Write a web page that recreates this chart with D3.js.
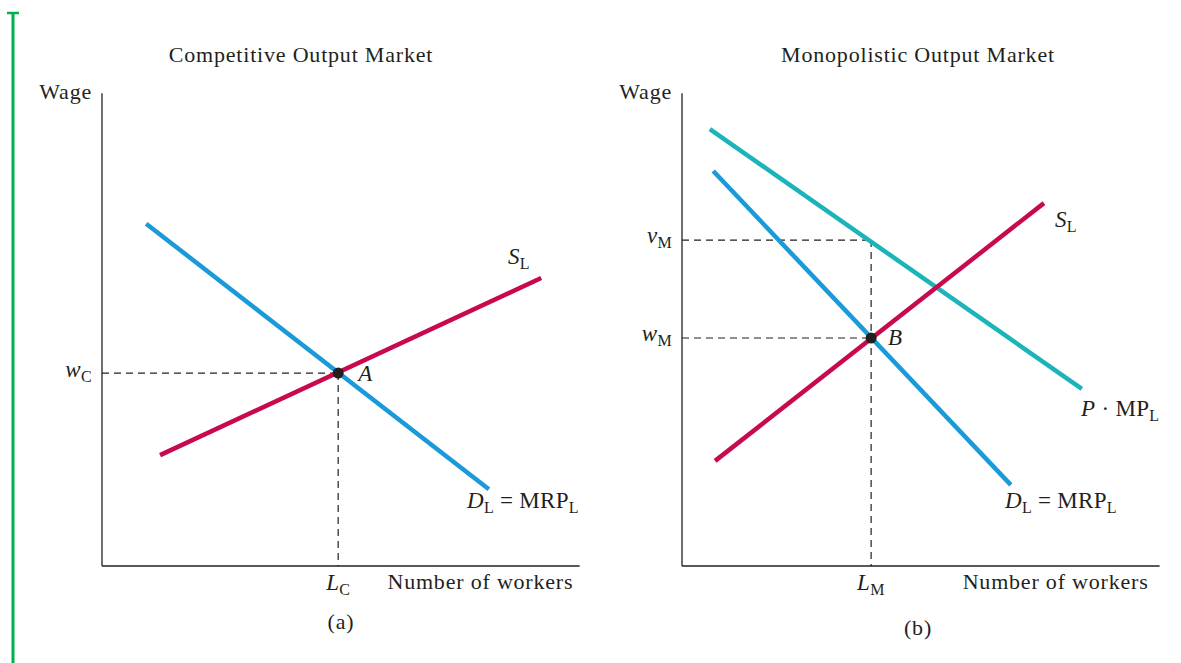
<!DOCTYPE html>
<html>
<head>
<meta charset="utf-8">
<script src="https://cdn.jsdelivr.net/npm/d3@7"></script>
<style>
  body { margin: 0; background: #fff; }
  text { font-family: "Liberation Serif", "DejaVu Serif", serif; fill: #231f20; letter-spacing: 0.8px; }
</style>
</head>
<body>
<svg id="chart" width="1181" height="663"></svg>
<script>
// panel (a): competitive output market, units 0..100 on both axes
const demandA = [[9.2, 71.3], [80.6, 16.0]];
const supplyA = [[12.1, 23.1], [91.5, 60.0]];
const pointA = [49.2, 40.2];

// panel (b): monopolistic output market
const pmpB = [[5.8, 91.0], [83.3, 36.9]];
const demandB = [[6.5, 82.3], [68.5, 16.9]];
const supplyB = [[6.9, 21.9], [75.4, 75.6]];
const pointB = [39.4, 47.5];
const vM = 67.9;

const titles = ["Competitive Output Market", "Monopolistic Output Market"];
const panelTags = ["(a)", "(b)"];

const svg = d3.select("#chart");
const blue = "#1a9ad9", red = "#c8084f", teal = "#1cb4bb";
const fs = 22;

// green margin bar
svg.append("line").attr("x1", 13).attr("x2", 13).attr("y1", 12).attr("y2", 663)
  .attr("stroke", "#00b04f").attr("stroke-width", 3);
svg.append("line").attr("x1", 7).attr("x2", 19).attr("y1", 13).attr("y2", 13)
  .attr("stroke", "#00b04f").attr("stroke-width", 2.5);

function makePanel(left) {
  const x = d3.scaleLinear().domain([0, 100]).range([left, left + 480]);
  const y = d3.scaleLinear().domain([0, 100]).range([566, 86]);
  const g = svg.append("g");
  g.append("line").attr("x1", x(0)).attr("x2", x(0)).attr("y1", y(0)).attr("y2", y(98.5))
    .attr("stroke", "#231f20").attr("stroke-width", 1.3);
  g.append("line").attr("x1", x(0)).attr("x2", x(99.5)).attr("y1", y(0)).attr("y2", y(0))
    .attr("stroke", "#231f20").attr("stroke-width", 1.3);
  return { x, y, g };
}

const line = (p, pts, color) =>
  p.g.append("path").datum(pts)
    .attr("d", d3.line().x(d => p.x(d[0])).y(d => p.y(d[1])))
    .attr("stroke", color).attr("stroke-width", 4.5).attr("fill", "none");

const dash = (p, x1, y1, x2, y2) =>
  p.g.append("line").attr("x1", p.x(x1)).attr("y1", p.y(y1)).attr("x2", p.x(x2)).attr("y2", p.y(y2))
    .attr("stroke", "#231f20").attr("stroke-width", 1.2).attr("stroke-dasharray", "7,5");

// label with italic main letter and upright subscript
function label(p, px, py, parts, anchor) {
  const t = p.g.append("text").attr("x", px).attr("y", py).attr("font-size", fs + 1)
    .attr("text-anchor", anchor || "start").style("letter-spacing", "0.3px");
  parts.forEach(([s, kind]) => {
    const ts = t.append("tspan").text(s);
    if (kind === "i") ts.attr("font-style", "italic");
    if (kind === "sub") ts.attr("font-size", 16).attr("dy", 5);
    if (kind === "up") ts.attr("dy", -5);
  });
  return t;
}

function frame(p, i, cx, xEnd) {
  p.g.append("text").attr("x", cx).attr("y", 62).attr("text-anchor", "middle")
    .attr("font-size", fs).text(titles[i]);
  p.g.append("text").attr("x", p.x(0) - 10).attr("y", 99).attr("text-anchor", "end")
    .attr("font-size", fs).text("Wage");
  p.g.append("text").attr("x", p.x(xEnd)).attr("y", 589).attr("text-anchor", "end")
    .attr("font-size", fs).text("Number of workers");
}

// ---- panel (a)
const pa = makePanel(102);
frame(pa, 0, 301, 98.2);
dash(pa, 0, pointA[1], pointA[0], pointA[1]);
dash(pa, pointA[0], pointA[1], pointA[0], 0);
line(pa, demandA, blue);
line(pa, supplyA, red);
pa.g.append("circle").attr("cx", pa.x(pointA[0])).attr("cy", pa.y(pointA[1])).attr("r", 5.5).attr("fill", "#231f20");
label(pa, pa.x(pointA[0]) + 20, pa.y(pointA[1]) + 8, [["A", "i"]]);
label(pa, 92, pa.y(pointA[1]) + 4, [["w", "i"], ["C", "sub"]], "end");
label(pa, pa.x(pointA[0]) - 12, 590, [["L", "i"], ["C", "sub"]]);
label(pa, 508, 264, [["S", "i"], ["L", "sub"]]);
label(pa, 467, 508, [["D", "i"], ["L", "sub"], [" = MRP", "up"], ["L", "sub"]]);
pa.g.append("text").attr("x", 341).attr("y", 629).attr("text-anchor", "middle")
  .attr("font-size", fs).text(panelTags[0]);

// ---- panel (b)
const pb = makePanel(682);
frame(pb, 1, 918, 97.2);
dash(pb, 0, vM, pointB[0], vM);
dash(pb, 0, pointB[1], pointB[0], pointB[1]);
dash(pb, pointB[0], vM, pointB[0], 0);
line(pb, pmpB, teal);
line(pb, demandB, blue);
line(pb, supplyB, red);
pb.g.append("circle").attr("cx", pb.x(pointB[0])).attr("cy", pb.y(pointB[1])).attr("r", 5.5).attr("fill", "#231f20");
label(pb, pb.x(pointB[0]) + 17, pb.y(pointB[1]) + 7, [["B", "i"]]);
label(pb, 672, pb.y(vM) + 3, [["v", "i"], ["M", "sub"]], "end");
label(pb, 672, pb.y(pointB[1]) + 3, [["w", "i"], ["M", "sub"]], "end");
label(pb, pb.x(pointB[0]) - 14, 590, [["L", "i"], ["M", "sub"]]);
label(pb, 1055, 227, [["S", "i"], ["L", "sub"]]);
label(pb, 1081, 416, [["P", "i"], [" \u00b7 MP", ""], ["L", "sub"]]);
label(pb, 1005, 508, [["D", "i"], ["L", "sub"], [" = MRP", "up"], ["L", "sub"]]);
pb.g.append("text").attr("x", 918).attr("y", 635).attr("text-anchor", "middle")
  .attr("font-size", fs).text(panelTags[1]);
</script>
</body>
</html>
